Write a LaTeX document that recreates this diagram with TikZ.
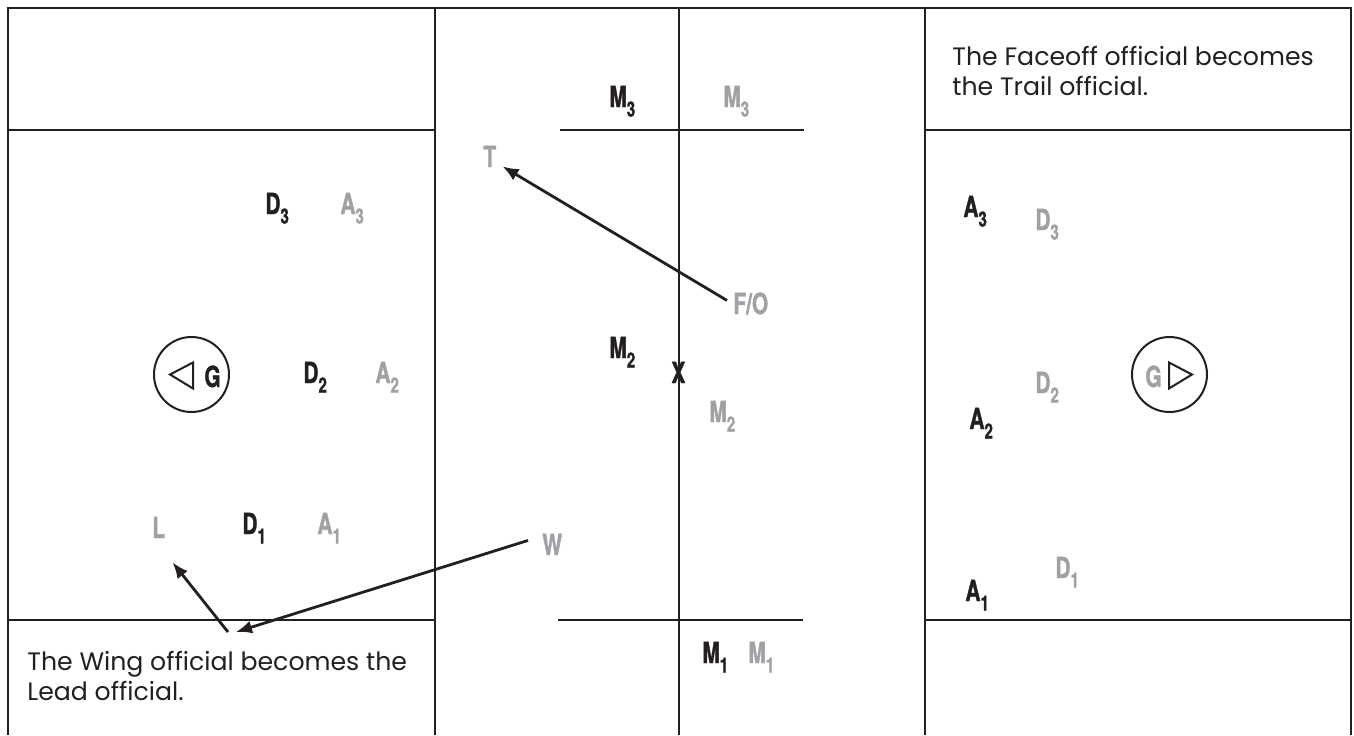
\documentclass[tikz,border=0pt]{standalone}
\usepackage{fontspec}
\usepackage{tikz}
\usetikzlibrary{arrows.meta,positioning,calc}
\newfontfamily\labfont[FakeStretch=0.72,BoldFeatures={FakeBold=1.2}]{TeX Gyre Heros}
\newfontfamily\notefont{Poppins}
\definecolor{ink}{HTML}{231F20}
\definecolor{mist}{HTML}{9FA1A4}
\newcommand\pl[2]{#1\raisebox{-4.8pt}{\fontsize{10.5}{10.5}\selectfont#2}}

\begin{document}
\begin{tikzpicture}[x=0.5pt,y=-0.5pt,>={Latex[length=8pt,width=6.5pt]},
rink/.style={line width=1.2pt,draw=ink},
home/.style={font=\fontsize{14.5}{14.5}\labfont\bfseries,text=ink,inner sep=0pt,anchor=base west},
away/.style={home,text=mist},
note/.style={font=\fontsize{12.6}{15}\notefont,text=ink,align=left,inner sep=0pt,anchor=base west},
goal/.style={circle,draw=ink,line width=1pt,minimum size=37.5pt,inner sep=0pt},
flap/.style={draw=ink,line width=1pt,line join=miter},
move/.style={->,line width=1.4pt,ink}]
\useasboundingbox (0,0) rectangle (1354,735);
\draw[rink] (8,735) -- (8,8) -- (1351,8) -- (1351,735);
\foreach \x in {435,679,925} \draw[rink] (\x,8) -- (\x,735);
\foreach \y in {130,620} {
  \draw[rink] (8,\y) -- (435,\y);
  \draw[rink] (925,\y) -- (1351,\y);
}
\draw[rink] (560,130) -- (804,130);
\draw[rink] (558,620) -- (803,620);

\node[goal] (gl) at (191.5,374.5) {};
\draw[flap] ([shift={(-21.5,0)}]gl.center) -- ++(23,-12) -- ++(0,26) -- cycle;
\node[home] (glg) at (204,387) {G};
\node[goal] (gr) at (1169.5,374.5) {};
\draw[flap] ([shift={(22.5,0)}]gr.center) -- ++(-23,-12) -- ++(0,26) -- cycle;
\node[away] (grg) at (1145,387) {G};

\node[home] (d3) at (265,214) {\pl{D}{3}};
\node[away] (a3) at (340,214) {\pl{A}{3}};
\node[home] (d2) at (303,383) {\pl{D}{2}};
\node[away] (a2) at (375,383) {\pl{A}{2}};
\node[home] (d1) at (242,534) {\pl{D}{1}};
\node[away] (a1) at (317,534) {\pl{A}{1}};
\node[away] (l) at (152,538) {L};

\node[home] (m3) at (609,107) {\pl{M}{3}};
\node[away] (m3b) at (723,107) {\pl{M}{3}};
\node[away] (t) at (483,167) {T};
\node[away] (fo) at (733,314) {F/O};
\node[home] (m2) at (609,358) {\pl{M}{2}};
\node[home] (x) at (671,383) {X};
\node[away] (m2b) at (709,422) {\pl{M}{2}};
\node[away] (w) at (542,555) {W};
\node[home] (m1) at (702,663) {\pl{M}{1}};
\node[away] (m1b) at (748,663) {\pl{M}{1}};

\node[home] (ra3) at (963,217) {\pl{A}{3}};
\node[away] (rd3) at (1035,230) {\pl{D}{3}};
\node[away] (rd2) at (1035,393) {\pl{D}{2}};
\node[home] (ra2) at (969,429) {\pl{A}{2}};
\node[away] (rd1) at (1055,578) {\pl{D}{1}};
\node[home] (ra1) at (965,601) {\pl{A}{1}};

\node[note] (trailnote) at (952,95) {The Faceoff official becomes\\the Trail official.};
\node[note] (leadnote) at (27,700) {The Wing official becomes the\\Lead official.};

\coordinate (meet) at (232,632);
\draw[move] ([shift={(-6,-3)}]fo.west) -- ([shift={(6,-1)}]t.south east);
\draw[move] ([shift={(-14,-4)}]w.west) -- ([shift={(4,0)}]meet);
\draw[move] ([shift={(-4,0)}]meet) -- ([shift={(7,24)}]l.south east);
\end{tikzpicture}
\end{document}
